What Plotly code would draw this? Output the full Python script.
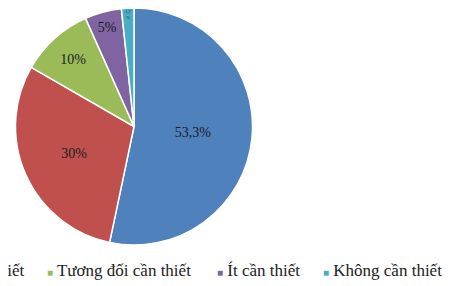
import plotly.graph_objects as go

labels = ["Rất cần thiết", "Cần thiết", "Tương đối cần thiết", "Ít cần thiết", "Không cần thiết"]
values = [53.3, 30, 10, 5, 1.7]
slice_text = ["53,3%", "30%", "10%", "5%", "1,7<br>%"]
colors = ["#4F81BD", "#C0504D", "#9BBB59", "#8064A2", "#4BACC6"]
text_sizes = [14, 14, 14, 14, 10]

W, H = 450, 286
OFF = 8  # page body margin compensation
r = 118.5
cx, cy = 134 - OFF, r

fig = go.Figure(go.Pie(
    labels=labels,
    values=values,
    text=slice_text,
    textinfo="text",
    textposition="inside",
    insidetextorientation="horizontal",
    insidetextfont=dict(family="Liberation Serif", size=text_sizes, color="#1b1b24"),
    marker=dict(colors=colors, line=dict(color="white", width=1.5)),
    sort=False,
    direction="clockwise",
    rotation=0,
    hoverinfo="label+percent",
    domain=dict(x=[(cx - r) / W, (cx + r) / W],
                y=[max(0, (H - cy - r) / H), min(1, (H - cy + r) / H)]),
))

# legend item left edges (screen px); first two items run off the left edge
legend_x = [-168, -49, 46, 216, 322]
legend_y = 270
for lab, c, lx in zip(labels, colors, legend_x):
    fig.add_annotation(
        text=f"<span style='color:{c};font-size:10px'>■</span> {lab}",
        xref="paper", yref="paper",
        x=(lx - OFF) / W, y=(H - (legend_y - OFF)) / H,
        xanchor="left", yanchor="middle",
        showarrow=False, borderpad=0,
        font=dict(family="Liberation Serif", size=17, color="#222222"),
    )

fig.update_layout(
    width=W, height=H,
    margin=dict(l=0, r=0, t=0, b=0),
    paper_bgcolor="white",
    plot_bgcolor="white",
    showlegend=False,
)

fig.write_html("out.html")
